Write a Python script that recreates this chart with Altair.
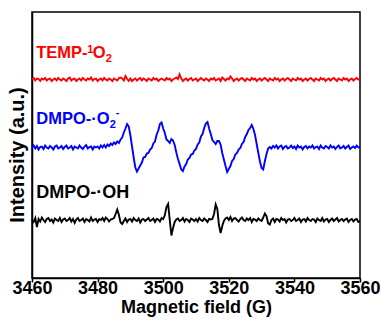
import altair as alt
import pandas as pd

# Magnetic field sampling grid (G)
field_start = 3460.0
field_step = 0.5

# Spectra (a.u., relative to each trace's own baseline)
temp_1o2 = [
    0, 1.5, -1, 1, 0.5, -1.5, 1, 0, 1.5, -1,
    0.5, 1, -1.5, 0, 1, -1, 1.5, 0, -1, 1,
    0, -1.5, 1, 2, -1, 0.5, 1, -1.5, 0, 1,
    -1, 1.5, 0, -1, 1, 0, 2, -1, 0.5, 1,
    -1.5, 0, 1, -1, 1.5, 0, -1, 1, 0, -1.5,
    1, 0, -1, 1.5, 2, 1, -1, 3.5, 0.5, -1.5,
    1, -1.5, 0, 1, -1, 0.5, 1.5, -1, 1, 0,
    -1.5, 1, 0, -1, 1.5, 0, 1, -1.5, 0, 1,
    0, -1, 1.5, 0, 1, -1.5, 0, 1, 2, 0.5,
    5, 1, -1.5, 0, 1, -1, 0.5, 1.5, -1, 0,
    1, -1.5, 0, 1.5, 0, -1, 1, 0, -1.5, 1,
    0, 1.5, -1, 0, 1, -1.5, 2, 0.5, -1, 1,
    0, 3, 1, -1.5, 0, 1, -1, 0.5, 1.5, 0,
    -1.5, 1, 0, -1, 1.5, 0, 1, -1.5, 0, 1,
    -1, 0.5, 1.5, 0, -1.5, 1, 0, -1, 1.5, 0,
    1, -1.5, 0, 1, -1, 0.5, 1.5, 0, -1.5, 1,
    0, -1, 1.5, 0, 1, -1.5, 0, 1, -1, 0.5,
    1.5, 0, -1.5, 1, 0, -1, 1.5, 0, 1, -1.5,
    0, 1, -1, 0.5, 1.5, 0, -1.5, 1, 0, -1,
    1.5, 0, 1, -1.5, 0, 1, -1, 0.5, 1.5, 0,
    0,
]

dmpo_o2 = [
    0, 2, -1, 1.5, -2, 0.5, 1, -1.5, 2, 0,
    -1, 1.5, 0, -2, 1, 2, -1, 0, 1.5, -1.5,
    0.5, 2, -1, 0, 1.5, -2, 1, 0, -1, 2,
    0, -1.5, 1, 2.5, -1, 0.5, 1, -2, 1, 0,
    1, -1, 2, 0, 2.5, 0, 3, 1.5, 4, 2.5,
    5, 3.5, 6, 4.5, 8, 10, 15, 19, 23.5, 21,
    12, 1, -10, -20, -24, -21, -18, -15, -10, -9.5,
    -6, -5.5, -2, -0.5, 4, 6, 13, 17, 23.5, 25,
    19, 14.5, 8, 6.5, 4.5, 8.5, 7, 2.5, -5, -11.5,
    -16.5, -22, -23.5, -19, -16.5, -12, -10.5, -7, -6.5, -3,
    -1.5, 3, 5, 11, 13.5, 19.5, 24, 25.5, 19, 13.5,
    7.5, 5.5, 3.5, 6.5, 6.5, 3, -5.5, -12, -18.5, -24.5,
    -21.5, -18.5, -13.5, -11.5, -7, -5.5, -2, -0.5, 3.5, 5.5,
    10.5, 13.5, 17.5, 19.5, 22.5, 18.5, 12.5, 3.5, -5.5, -14,
    -20.5, -22, -13.5, -6.5, -1, 0.5, -1, 1.5, 0, 2,
    -1, 1, 2, -1.5, 0.5, 1.5, -1, 0, 2, -0.5,
    1, -1.5, 2, 0, 1, -2, 0.5, 1.5, -1, 1,
    0, 2, -1, 0.5, 1, -1.5, 2, 0, -1, 1.5,
    0.5, -1, 2, 0, 1, -1.5, 0.5, 2, -1, 0,
    1.5, -1, 0.5, 2, -1.5, 0, 1, -0.5, 2, 0,
    0.5,
]

dmpo_oh = [
    0, -2, 2, -7, 1, -1.5, 2.5, 0, -2, 1,
    2, -1, 0.5, -2.5, 1.5, 0, -1, 2, -2, 0.5,
    1.5, -1, 0, 2, -1.5, 1, -3, 0.5, 2, -1,
    0, 1.5, -2, 1, 0, -1.5, 2.5, -1, 0.5, 1,
    -2, 1, 0, 2, -1, 2.5, 1, -1.5, 0.5, 1,
    2, 6, 10.5, 5, -2.5, -4, -1, 1.5, -2, 0.5,
    1, -1.5, 2, 0, -1, 1.5, -2.5, 0.5, 1, -1,
    0.5, 2, -1, 0, 1.5, -2, 1, 0.5, -1.5, 2,
    1, 5, 13, 16, 0, -15.5, -8, -2, 0.5, 1.5,
    -1, 0, 2, -1.5, 1, 0, -2, 1.5, 0.5, -1,
    1, -1.5, 2, 0, -1, 1.5, 0, -2, 1, 0.5,
    1, 6, 15.5, 11, -5, -13, -6, -1, 1.5, 2.5,
    0, 3, -1, 1.5, 2, 0, -1.5, 1, 2.5, 0,
    -1, 1.5, 0, 2, -2, 1, 0.5, -1, 1.5, 0,
    -1, 2.5, 6.5, 4, -3.5, -4.5, 0, 1.5, -2, 1,
    0.5, -1.5, 2, 0, 1, -2.5, 0.5, 1, -1, 0,
    2, -1, 0, 1.5, -2, 0.5, 1, -1.5, 2, 0,
    -1, 1, 0.5, -2, 1.5, 0, -1, 2, -1.5, 0.5,
    1, -2, 0, 1.5, -1, 0.5, 2, -1.5, 0, 1,
    -1, 0.5, 1.5, -2, 0, 1, -1.5, 0.5, 1, -2,
    -1,
]

series_names = ["TEMP-1O2", "DMPO-O2", "DMPO-OH"]
series_offsets = [198.5, 130.5, 58.0]
series_colors = ["#ff0000", "#0000ff", "#000000"]

x_ticks = list(range(3460, 3561, 10))

rows = []
for name, off, vals in zip(series_names, series_offsets, [temp_1o2, dmpo_o2, dmpo_oh]):
    for i, v in enumerate(vals):
        rows.append({"field": field_start + field_step * i, "intensity": off + v, "series": name})
df = pd.DataFrame(rows)

X_TITLE = "Magnetic field (G)"
Y_TITLE = "Intensity (a.u.)"

x_enc = alt.X(
    "field:Q",
    title=X_TITLE,
    scale=alt.Scale(domain=[3460, 3560], nice=False, zero=False),
    axis=alt.Axis(
        values=x_ticks,
        format="d",
        labelExpr="datum.value % 20 == 0 ? datum.label : ''",
        grid=False,
        tickSize=4,
        labelPadding=-3,
        titlePadding=1,
        labelFlush=False,
        labelOverlap=False,
    ),
)
y_enc = alt.Y(
    "intensity:Q",
    title=Y_TITLE,
    scale=alt.Scale(domain=[0, 266], nice=False, zero=False),
    axis=alt.Axis(labels=False, ticks=False, grid=False, titlePadding=5, titleY=142.5),
)

lines = alt.Chart(df).mark_line(strokeWidth=1.9).encode(
    x=x_enc,
    y=y_enc,
    color=alt.Color(
        "series:N",
        scale=alt.Scale(domain=series_names, range=series_colors),
        legend=None,
    ),
)

# label anchor positions in data units (field, intensity)
label_field = 3461.3
label_levels = [220.3, 153.7, 80.3]


def piece(text, level, color, size, dx=0, dy=0):
    d = pd.DataFrame({"field": [label_field], "intensity": [level], "t": [text]})
    return alt.Chart(d).mark_text(
        align="left", baseline="alphabetic", fontSize=size, fontWeight="bold",
        color=color, dx=dx, dy=dy,
    ).encode(
        x=alt.X("field:Q", title=X_TITLE),
        y=alt.Y("intensity:Q", title=Y_TITLE),
        text="t:N",
    )


texts = [
    piece("TEMP-", label_levels[0], series_colors[0], 16.5),
    piece("1", label_levels[0], series_colors[0], 11, dx=51, dy=-5),
    piece("O", label_levels[0], series_colors[0], 16.5, dx=56.5),
    piece("2", label_levels[0], series_colors[0], 11, dx=69.5, dy=4),
    piece("DMPO-\u00b7O", label_levels[1], series_colors[1], 16.5),
    piece("2", label_levels[1], series_colors[1], 11, dx=73.5, dy=4),
    piece("-", label_levels[1], series_colors[1], 11, dx=79.5, dy=-8),
    piece("DMPO-\u00b7OH", label_levels[2], series_colors[2], 18),
]

chart = alt.layer(lines, *texts).properties(
    width=328,
    height=266,
    autosize=alt.AutoSizeParams(type="none"),
    padding={"left": 32, "top": 12, "right": 21, "bottom": 44},
).configure(
    font="Liberation Sans",
    background="white",
).configure_view(
    stroke="black",
    strokeWidth=1.5,
).configure_axis(
    domainColor="black",
    domainWidth=1.5,
    tickColor="black",
    tickWidth=1.5,
    labelColor="black",
    labelFontSize=18,
    labelFontWeight="bold",
    labelFont="Liberation Sans",
    titleColor="black",
    titleFontSize=18,
    titleFontWeight="bold",
    titleFont="Liberation Sans",
).configure_axisLeft(
    titleFontSize=20,
)

chart.save("out.html", embed_options={"renderer": "svg", "actions": False})
